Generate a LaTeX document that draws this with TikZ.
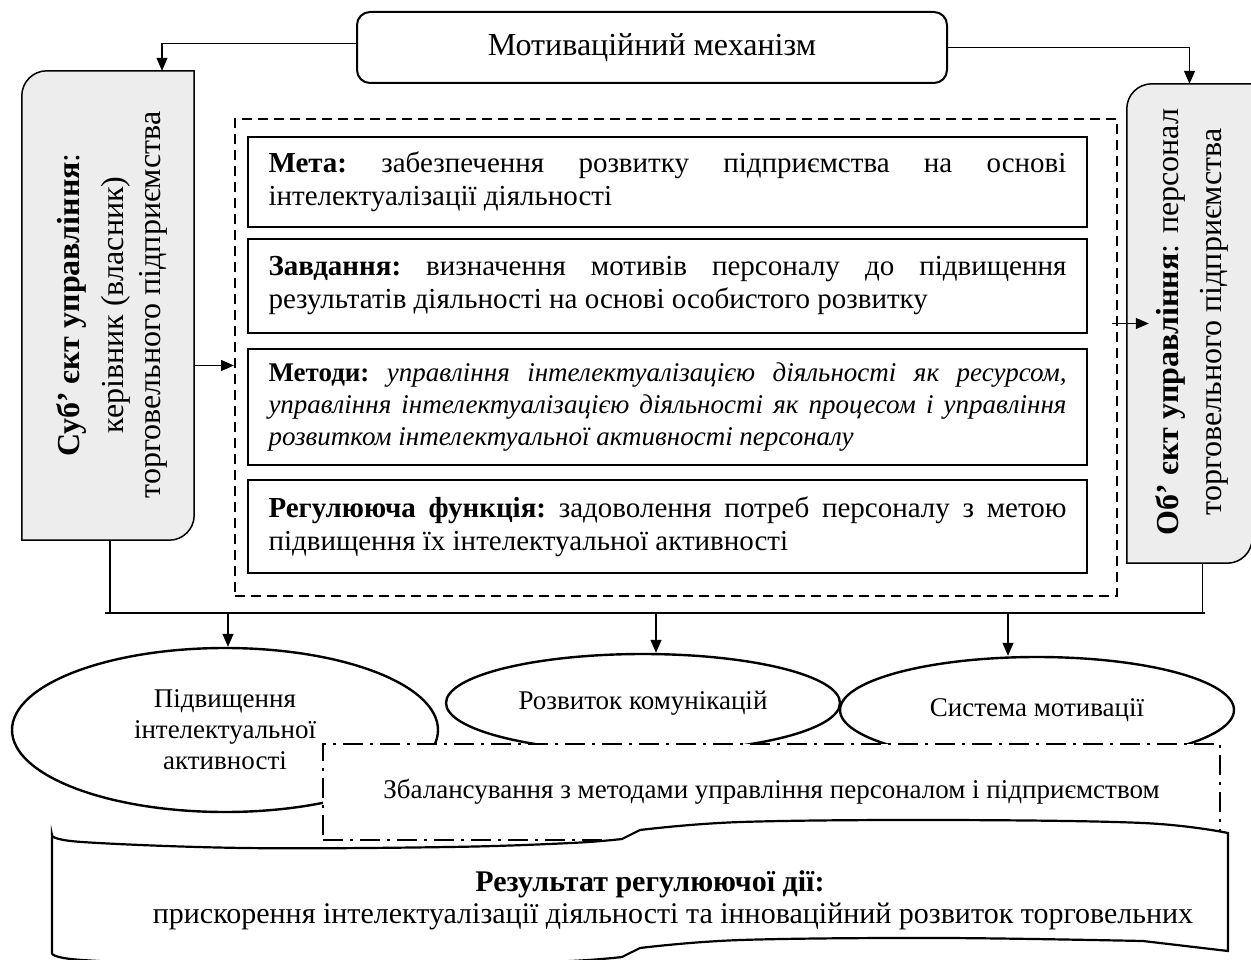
\documentclass[tikz,border=0pt]{standalone}
\usepackage{fontspec}
\setmainfont{Liberation Serif}
\usetikzlibrary{arrows.meta,calc,shapes.geometric}
\definecolor{boxgray}{HTML}{EDEDED}
\newcommand{\nsh}{\frenchspacing\spaceskip=.25em plus 1em\relax}
\begin{document}
\begin{tikzpicture}[x=1pt,y=-1pt,
  conn/.style={line width=1.2pt},
  arr/.style={conn,-{Triangle[length=13pt,width=11pt]}},
  topbox/.style={draw,line width=2pt,rounded corners=13pt,minimum width=590pt,minimum height=71pt,font=\fontsize{32}{38}\selectfont},
  sidebox/.style={draw,line width=1.5pt,fill=boxgray},
  sidetext/.style={rotate=90,align=center,font=\fontsize{32}{37}\selectfont},
  holder/.style={draw=none,inner sep=0pt},
  inbox/.style={draw,line width=2.8pt,inner xsep=20pt,text width=798pt,align=justify,minimum width=839pt,font=\fontsize{29}{33}\selectfont},
  ell/.style={draw,ellipse,line width=2.4pt,fill=white,inner sep=0pt,align=center,font=\fontsize{27}{31}\selectfont},
  dashbox/.style={draw,line width=2pt,dash pattern=on 10pt off 6pt,minimum width=882pt,minimum height=477pt},
  balbox/.style={draw,fill=white,line width=2pt,dash pattern=on 20pt off 7pt on 3pt off 7pt,minimum width=897pt,minimum height=96pt,font=\fontsize{27}{31}\selectfont},
  scroll/.style={draw,fill=white,line width=2.2pt}
]
\useasboundingbox (0,0) rectangle (1251,960);

% top box
\node[topbox] (mot) at (652,47.5) {Мотиваційний механізм};

% subject box
\node[holder,minimum width=172pt,minimum height=469pt] (subj) at (108,305.5) {};
\draw[sidebox] (subj.south west) -- ($(subj.north west)+(0,25)$) arc[start angle=180,end angle=270,radius=25] -- (subj.north east) -- ($(subj.south east)+(0,-25)$) arc[start angle=0,end angle=90,radius=25] -- cycle;
\node[sidetext] (subjtxt) at (112,305) {\textbf{Суб’ єкт управління}:\\[7pt] керівник (власник)\\ торговельного підприємства};

% object box
\node[holder,minimum width=125pt,minimum height=479pt] (obj) at (1189.5,323.5) {};
\draw[sidebox] (obj.south west) -- ($(obj.north west)+(0,25)$) arc[start angle=180,end angle=270,radius=25] -- (obj.north east) -- ($(obj.south east)+(0,-25)$) arc[start angle=0,end angle=90,radius=25] -- cycle;
\node[sidetext] (objtxt) at (1192,322) {\textbf{Об’ єкт управління}: персонал\\[6pt] торговельного підприємства};

% dashed container
\node[dashbox] (dash) at (676,357.5) {};

\node[inbox,minimum height=90pt] (meta) at (667.5,182) {\nsh\textbf{Мета:} забезпечення розвитку підприємства на основі інтелектуалізації діяльності};
\node[inbox,minimum height=94pt] (zavd) at (667.5,286) {\nsh\textbf{Завдання:} визначення мотивів персоналу до підвищення результатів діяльності на основі особистого розвитку};
\node[inbox,minimum height=116pt,font=\fontsize{27}{32}\selectfont] (metod) at (667.5,407) {\nsh\textbf{Методи:} \textit{управління інтелектуалізацією діяльності як ресурсом, управління інтелектуалізацією діяльності як процесом і управління розвитком інтелектуальної активності персоналу}};
\node[inbox,minimum height=93pt] (reg) at (667.5,526.5) {\nsh\textbf{Регулююча функція:} задоволення потреб персоналу з метою підвищення їх інтелектуальної активності};

% top connectors
\draw[arr] ([yshift=4pt]mot.west) -| ([xshift=54pt]subj.north);
\draw[arr] (mot.east) -| (obj.north);

% side connectors
\path (subj.east) ++(0,60) coordinate (a1);
\draw[arr] (a1) -- (a1 -| dash.west);
\draw[arr] ([xshift=-15pt]obj.west) -- ([xshift=22pt]obj.west);

% ellipses
\node[ell,minimum width=426pt,minimum height=164pt] (e1) at (225,730) {Підвищення\\інтелектуальної\\активності};
\node[ell,minimum width=394pt,minimum height=98pt] (e2) at (643,703) {Розвиток комунікацій};
\node[ell,minimum width=394pt,minimum height=106pt] (e3) at (1037,710) {Система мотивації};

% bus
\coordinate (busL) at (105,613);
\coordinate (busR) at (1205,613);
\draw[conn] (busL) -- (busR);
\draw[conn] ([xshift=2pt]subj.south) -- ([xshift=2pt]subj.south |- busL);
\draw[conn] ([xshift=13pt]obj.south) -- ([xshift=13pt]obj.south |- busR);
\draw[arr] ([xshift=3pt]e1.north |- busL) -- ([xshift=3pt]e1.north);
\draw[arr] ([xshift=13pt]e2.north |- busL) -- ([xshift=13pt]e2.north);
\draw[arr] ([xshift=-29pt]e3.north |- busL) -- ([xshift=-29pt]e3.north);

% balance box
\node[balbox] (bal) at (771.5,792) {Збалансування з методами управління персоналом і підприємством};

% scroll
\filldraw[scroll] (52,953) -- plot[smooth,tension=.6] coordinates {(52,835) (82,842) (245,848) (449,847) (571,843) (622,839)}
  -- plot[smooth,tension=.6] coordinates {(640,830) (741,822) (942,820) (1143,823) (1228,833)}
  -- (1228,951) -- plot[smooth,tension=.6] coordinates {(1143,941) (942,938) (741,940) (640,948)}
  -- plot[smooth,tension=.6] coordinates {(622,957) (571,961) (449,965) (245,966) (82,960) (52,953)} -- cycle;
\node[font=\fontsize{30}{34}\selectfont\bfseries] (res1) at (650,884) {Результат регулюючої дії:};
\node[font=\fontsize{30}{34}\selectfont] (res2) at (673,916) {прискорення інтелектуалізації діяльності та інноваційний розвиток торговельних};
\end{tikzpicture}
\end{document}
